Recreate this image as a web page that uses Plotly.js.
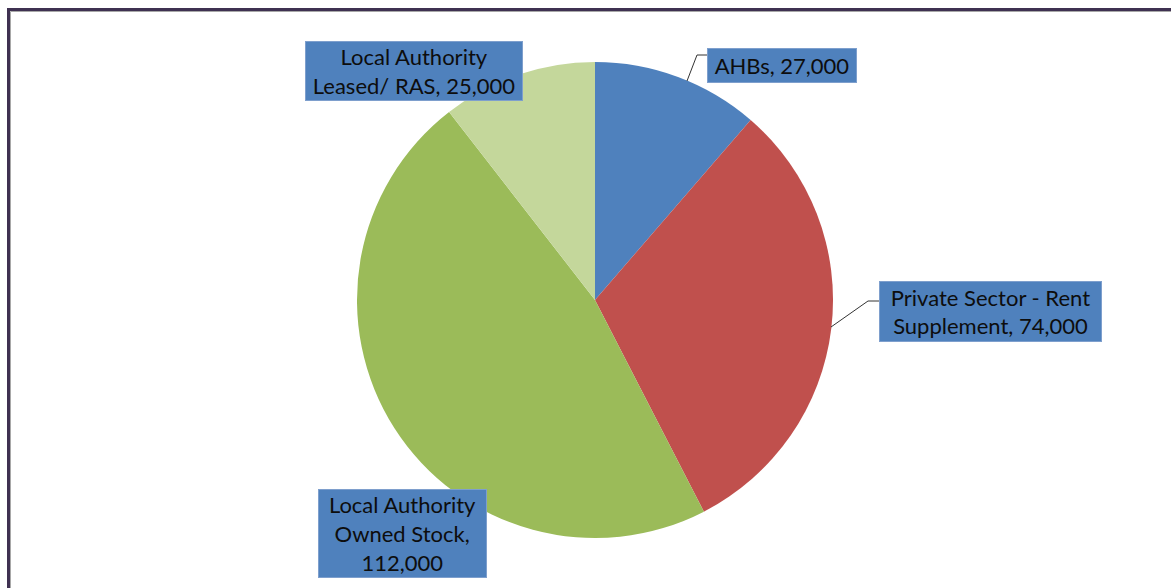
<!DOCTYPE html>
<html>
<head>
<meta charset="utf-8">
<script src="https://cdn.plot.ly/plotly-3.0.1.min.js"></script>
<style>html,body{margin:0;padding:0;background:#fff;}#chart{width:1171px;height:588px;}</style>
</head>
<body>
<div id="chart"></div>
<script>
const categories = ["AHBs", "Private Sector - Rent Supplement", "Local Authority Owned Stock", "Local Authority Leased/ RAS"];
const units = [27000, 74000, 112000, 25000];
const labelText = ["AHBs, 27,000", "Private Sector - Rent<br>Supplement, 74,000", "Local Authority<br>Owned Stock,<br>112,000", "Local Authority<br>Leased/ RAS, 25,000"];
const sliceColors = ["#4F81BD", "#C0504D", "#9BBB59", "#C4D79B"];

const W = 1171, H = 588;
const px = x => x / W;
const py = y => 1 - y / H;

const cx = 595, cy = 300, r = 238;

// label boxes (pixel boxes: left, top, right, bottom)
const boxes = [
  [707, 48, 857, 83],
  [879, 281, 1102, 342],
  [318, 489, 487, 578],
  [305, 41, 523, 101]
];
const pad = 2;
const annotations = labelText.map((t, i) => {
  const b = boxes[i];
  return {
    xref: 'paper', yref: 'paper',
    x: px((b[0] + b[2]) / 2), y: py((b[1] + b[3]) / 2),
    xanchor: 'center', yanchor: 'middle',
    text: t, showarrow: false,
    font: {family: 'Lato, "Open Sans", sans-serif', size: 22, color: '#0d0d0d'},
    bgcolor: sliceColors[0], bordercolor: '#7E9FCD', borderwidth: 1, borderpad: pad,
    width: b[2] - b[0] - 2 * pad - 2, height: b[3] - b[1] - 2 * pad - 2,
    align: 'center', valign: 'middle'
  };
});

const leader = pts => pts.slice(0, -1).map((p, i) => ({
  type: 'line', xref: 'paper', yref: 'paper',
  x0: px(p[0]), y0: py(p[1]), x1: px(pts[i + 1][0]), y1: py(pts[i + 1][1]),
  line: {color: '#333333', width: 1}
}));

const shapes = [
  {type: 'rect', xref: 'paper', yref: 'paper', x0: px(8.5), y0: py(9.5), x1: 1.02, y1: -0.02,
   line: {color: '#3F3151', width: 3}},
  {type: 'rect', xref: 'paper', yref: 'paper', x0: px(10.5), y0: py(11.5), x1: 1.02, y1: -0.02,
   line: {color: '#A8A8A8', width: 1}},
  ...leader([[687, 81], [697, 55], [707, 55]]),
  ...leader([[831, 327], [868, 301], [879, 301]])
];

const data = [{
  type: 'pie',
  labels: categories,
  values: units,
  sort: false,
  direction: 'clockwise',
  rotation: 0,
  textinfo: 'none',
  hoverinfo: 'label+value',
  marker: {colors: sliceColors, line: {width: 0}},
  showlegend: false,
  domain: {x: [px(cx - r), px(cx + r)], y: [py(cy + r), py(cy - r)]}
}];

const layout = {
  width: W, height: H,
  margin: {l: 0, r: 0, t: 0, b: 0},
  paper_bgcolor: '#ffffff',
  showlegend: false,
  annotations: annotations,
  shapes: shapes
};

Plotly.newPlot('chart', data, layout, {displayModeBar: false, staticPlot: true});
</script>
</body>
</html>
